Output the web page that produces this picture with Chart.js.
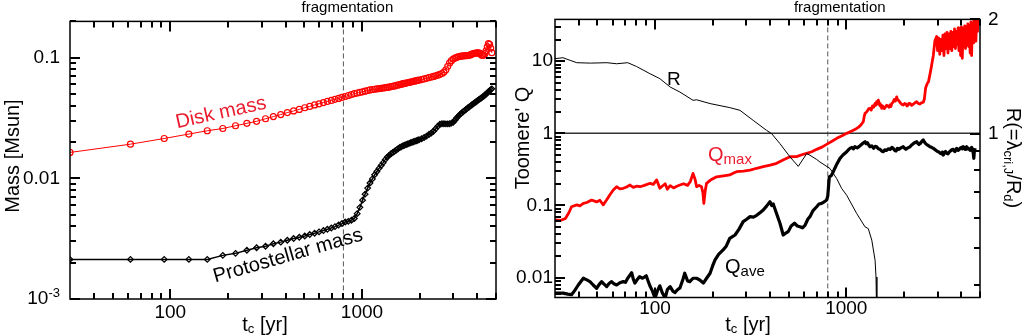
<!DOCTYPE html>
<html>
<head>
<meta charset="utf-8">
<script src="https://cdn.jsdelivr.net/npm/chart.js@4.4.1/dist/chart.umd.min.js"></script>
<style>
  body { margin: 0; background: #fff; }
  #wrap { position: relative; width: 1030px; height: 336px; background: #fff; }
  canvas { position: absolute; top: 0; }
  #massChart { left: 0; }
  #toomreChart { left: 505px; }
</style>
</head>
<body>
<div id="wrap">
  <canvas id="massChart" width="505" height="336"></canvas>
  <canvas id="toomreChart" width="525" height="336"></canvas>
</div>
<script>
const FONT = '"Liberation Sans", Arial, Helvetica, sans-serif';
const RED = '#ff0000';
const TEXT_RED = '#ec1c30';

// first fragment appears here [yr]
const tFrag = 800;

// shared time axis
const tTicks = [40, 50, 60, 70, 80, 90, 100, 200, 300, 400, 500, 600, 700, 800, 900, 1000, 2000, 3000, 4000, 5000];
const tMajor = [100, 1000];
const tLabels = { 100: '100', 1000: '1000' };

// left panel: masses
const massTicks = [0.001, 0.002, 0.003, 0.004, 0.005, 0.006, 0.007, 0.008, 0.009,
  0.01, 0.02, 0.03, 0.04, 0.05, 0.06, 0.07, 0.08, 0.09, 0.1, 0.2];
const massMajor = [0.001, 0.01, 0.1];
const massLabels = { 0.01: '0.01', 0.1: '0.1' };

const tMass = [30, 62, 93, 125, 156, 188, 219, 251, 282, 314,
  345, 377, 408, 440, 471, 503, 534, 566, 597, 629,
  660, 692, 723, 755, 786, 818,
  849, 881, 912, 944, 975, 1007, 1038, 1070, 1101, 1133,
  1164, 1196, 1227, 1259, 1290, 1322, 1353, 1385, 1416, 1448,
  1479, 1511, 1542, 1574, 1605, 1637, 1668, 1700, 1731, 1763,
  1794, 1826, 1857, 1889, 1920, 1952, 1983,
  2046, 2109, 2172, 2235, 2298, 2361, 2424, 2487, 2550, 2613,
  2676, 2739, 2802, 2865, 2928, 2991, 3054, 3117, 3180, 3243,
  3306, 3369, 3432, 3495, 3558, 3621, 3684, 3747, 3810, 3873,
  3936, 3999, 4062, 4125, 4188, 4251, 4314, 4377, 4440, 4503,
  4566, 4629, 4692, 4755];

const diskMass = [0.0164, 0.0192, 0.0214, 0.0233, 0.0248, 0.0259, 0.0273, 0.0286, 0.0297, 0.0312,
  0.0325, 0.0338, 0.0351, 0.0362, 0.0373, 0.0385, 0.0395, 0.0406, 0.0415, 0.0425,
  0.0434, 0.0443, 0.0452, 0.0460, 0.0469, 0.0477,
  0.0486, 0.0495, 0.0503, 0.0510, 0.0516, 0.0522, 0.0528, 0.0535, 0.0541, 0.0545,
  0.0548, 0.0552, 0.0555, 0.0558, 0.0561, 0.0564, 0.0567, 0.0571, 0.0576, 0.0580,
  0.0584, 0.0589, 0.0594, 0.0599, 0.0604, 0.0609, 0.0612, 0.0616, 0.0620, 0.0624,
  0.0628, 0.0632, 0.0637, 0.0641, 0.0645, 0.0649, 0.0652,
  0.0659, 0.0667, 0.0675, 0.0684, 0.0692, 0.0700, 0.0708, 0.0716, 0.0728, 0.0740,
  0.0760, 0.0795, 0.0850, 0.0905, 0.0945, 0.0975, 0.0995, 0.1008, 0.1018, 0.1025,
  0.1030, 0.1035, 0.1038, 0.1040, 0.1043, 0.1048, 0.1060, 0.1072, 0.1082, 0.1088,
  0.1092, 0.1095, 0.1096, 0.1085, 0.1060, 0.1045, 0.1050, 0.1080, 0.1140, 0.1230,
  0.1310, 0.1290, 0.1200, 0.1100];

const protoMass = [0.00213, 0.00213, 0.00213, 0.00213, 0.00213, 0.00230, 0.00239, 0.00254, 0.00266, 0.00274,
  0.00287, 0.00296, 0.00307, 0.00317, 0.00325, 0.00333, 0.00342, 0.00351, 0.00360, 0.00369,
  0.00378, 0.00388, 0.00398, 0.00410, 0.00422, 0.00435,
  0.00440, 0.00450, 0.00465, 0.00510, 0.00575, 0.00660, 0.00740, 0.00830, 0.00915, 0.0099,
  0.0107, 0.0114, 0.0121, 0.0128, 0.0135, 0.0143, 0.0150, 0.0155, 0.0160, 0.0164,
  0.0168, 0.0172, 0.0176, 0.0180, 0.0183, 0.0186, 0.0188, 0.0191, 0.0193, 0.0195,
  0.0197, 0.0199, 0.0201, 0.0203, 0.0205, 0.0207, 0.0209,
  0.0213, 0.0218, 0.0224, 0.0231, 0.0238, 0.0246, 0.0258, 0.0270, 0.0281, 0.0284,
  0.0284, 0.0283, 0.0283, 0.0284, 0.0287, 0.0292, 0.0303, 0.0316, 0.0328, 0.0339,
  0.0348, 0.0356, 0.0365, 0.0374, 0.0383, 0.0391, 0.0399, 0.0407, 0.0415, 0.0424,
  0.0432, 0.0440, 0.0448, 0.0456, 0.0464, 0.0472, 0.0480, 0.0490, 0.0500, 0.0511,
  0.0522, 0.0533, 0.0544, 0.0552];

// right panel: Toomre Q and R
const qTicks = [0.006, 0.007, 0.008, 0.009, 0.01, 0.02, 0.03, 0.04, 0.05, 0.06, 0.07, 0.08, 0.09,
  0.1, 0.2, 0.3, 0.4, 0.5, 0.6, 0.7, 0.8, 0.9, 1, 2, 3, 4, 5, 6, 7, 8, 9, 10, 20, 30];
const qMajor = [0.01, 0.1, 1, 10];
const qLabels = { 0.01: '0.01', 0.1: '0.1', 1: '1', 10: '10' };
const rTicks = [0.4, 0.5, 0.6, 0.7, 0.8, 0.9, 1, 2];
const rMajor = [1, 2];
const rLabels = { 1: '1', 2: '2' };

const tQmax = [30, 32, 34, 35.5, 36.6, 39, 40.5, 42.2, 44, 46.6,
  49.5, 51.5, 53.6, 55.8, 58, 60.5, 63, 65.5, 68.3, 71,
  74, 77, 80, 83.4, 88, 94.2, 98, 102, 106, 109,
  113, 116, 120, 125, 130, 135, 141, 148, 153, 158,
  162, 165, 170, 175, 178, 180, 183, 186, 195, 210,
  228, 246, 256, 267, 290, 314, 340, 368, 400, 432,
  470, 508, 550, 585, 620, 660, 700, 750, 805, 850,
  891, 950, 1005, 1040, 1070, 1100, 1133, 1160, 1190, 1210,
  1227, 1240, 1253, 1270, 1290, 1310, 1331, 1350, 1370, 1390,
  1414, 1427, 1440, 1455, 1470, 1485, 1500, 1515, 1532, 1545,
  1560, 1580, 1600, 1625, 1650, 1670, 1692, 1710, 1730, 1755,
  1780, 1805, 1834, 1855, 1880, 1905, 1930, 1958, 1986, 2020,
  2050, 2075, 2100, 2125, 2153, 2195, 2240, 2285, 2333, 2375,
  2420, 2470, 2526, 2560, 2600, 2650, 2690, 2750, 2793, 2850,
  2904, 2966, 3000, 3040, 3080, 3120, 3160, 3200, 3240, 3280,
  3320, 3360, 3400, 3440, 3480, 3520, 3560, 3600, 3640, 3680,
  3720, 3760, 3800, 3840, 3880, 3920, 3960, 4000, 4040, 4080,
  4120, 4160, 4200, 4240, 4280, 4320, 4360, 4400, 4440, 4480,
  4520, 4560, 4600, 4640, 4680, 4720, 4760, 4800, 4850, 4900,
  4950];
const qMax = [0.063, 0.062, 0.066, 0.080, 0.096, 0.102, 0.099, 0.107, 0.110, 0.119,
  0.112, 0.118, 0.102, 0.119, 0.140, 0.164, 0.182, 0.170, 0.173, 0.180,
  0.192, 0.178, 0.185, 0.182, 0.190, 0.203, 0.196, 0.226, 0.173, 0.185,
  0.200, 0.168, 0.188, 0.175, 0.185, 0.192, 0.200, 0.190, 0.215, 0.279,
  0.230, 0.182, 0.190, 0.182, 0.150, 0.107, 0.160, 0.203, 0.225, 0.250,
  0.258, 0.265, 0.280, 0.294, 0.300, 0.310, 0.328, 0.345, 0.362, 0.384,
  0.430, 0.474, 0.475, 0.505, 0.529, 0.556, 0.600, 0.650, 0.727, 0.790,
  0.853, 0.925, 1.00, 1.04, 1.08, 1.12, 1.17, 1.22, 1.30, 1.38,
  1.45, 1.70, 1.89, 1.95, 2.05, 2.20, 2.22, 2.10, 2.40, 2.30,
  2.60, 2.45, 2.75, 2.55, 2.89, 2.60, 2.40, 2.50, 2.22, 2.40,
  2.35, 2.20, 2.30, 2.45, 2.40, 2.30, 2.47, 2.35, 2.60, 2.70,
  2.95, 2.80, 3.21, 2.90, 2.85, 2.70, 2.60, 2.50, 2.47, 2.60,
  2.55, 2.40, 2.45, 2.60, 2.60, 2.45, 2.55, 2.65, 2.74, 2.60,
  2.55, 2.65, 2.70, 3.00, 4.30, 4.90, 5.20, 7.00, 8.80, 12.0,
  19.0, 22.0, 14.0, 21.0, 12.5, 20.0, 14.0, 23.0, 12.0, 24.0,
  15.0, 25.0, 13.0, 24.0, 15.0, 26.0, 14.0, 25.0, 16.0, 28.0,
  15.0, 26.0, 17.0, 29.0, 14.0, 27.0, 12.0, 30.0, 11.0, 28.0,
  16.0, 31.0, 15.0, 30.0, 17.0, 33.0, 16.0, 31.0, 13.0, 35.0,
  12.0, 33.0, 18.0, 38.0, 21.0, 36.0, 19.0, 42.0, 26.0, 40.0,
  45.0];

const tQave = [30, 33.1, 35, 36.6, 38, 39.7, 42.2, 44, 45.7, 47.5,
  49.5, 51, 52.6, 54, 55.9, 57.5, 59.3, 61, 63, 65.5,
  68.2, 70, 72, 75.5, 77, 78.5, 81, 83, 86, 90,
  92, 94, 97, 100, 103, 106, 109, 113, 116, 120,
  124, 127, 131, 135, 140, 143, 148, 152, 158, 165,
  172, 179, 186, 194, 200, 206, 215, 227, 236, 246,
  254, 262, 275, 289, 300, 314, 327, 340, 355, 368,
  383, 399, 407, 415, 430, 450, 468, 480, 497, 515,
  536, 555, 572, 590, 608, 630, 646, 670, 700, 720,
  743, 765, 789, 800, 815, 835, 855, 890, 927, 960,
  1005, 1025, 1045, 1070, 1090, 1109, 1140, 1170, 1200, 1230,
  1253, 1270, 1290, 1310, 1330, 1360, 1390, 1415, 1442, 1470,
  1500, 1530, 1561, 1590, 1620, 1660, 1700, 1730, 1760, 1790,
  1820, 1850, 1880, 1930, 1985, 2020, 2050, 2100, 2150, 2195,
  2240, 2290, 2333, 2370, 2400, 2430, 2450, 2490, 2525, 2560,
  2600, 2650, 2700, 2737, 2790, 2850, 2900, 2950, 3000, 3050,
  3100, 3150, 3180, 3215, 3260, 3300, 3350, 3400, 3450, 3500,
  3560, 3625, 3660, 3700, 3740, 3777, 3840, 3900, 3950, 4000,
  4040, 4087, 4130, 4180, 4220, 4256, 4300, 4350, 4400, 4450,
  4490, 4520, 4560, 4612, 4630, 4650, 4675, 4700];
const qAve = [0.0061, 0.0061, 0.0059, 0.0058, 0.0066, 0.0079, 0.0098, 0.0093, 0.0088, 0.0079,
  0.0071, 0.0080, 0.0088, 0.0082, 0.0075, 0.0083, 0.0088, 0.0082, 0.0079, 0.0085,
  0.0088, 0.0086, 0.0098, 0.0117, 0.0095, 0.0084, 0.0095, 0.0103, 0.0098, 0.0106,
  0.0090, 0.0077, 0.0065, 0.0052, 0.0066, 0.0077, 0.0062, 0.0052, 0.0068, 0.0075,
  0.0065, 0.0062, 0.0068, 0.0072, 0.0095, 0.0115, 0.0090, 0.0088, 0.0098, 0.0098,
  0.0092, 0.0084, 0.0098, 0.0115, 0.0145, 0.0176, 0.0210, 0.0242, 0.0275, 0.0351,
  0.0370, 0.0390, 0.0470, 0.0597, 0.0640, 0.0700, 0.0690, 0.0730, 0.0800, 0.0867,
  0.0980, 0.113, 0.100, 0.105, 0.080, 0.0567, 0.039, 0.041, 0.0434, 0.052,
  0.0567, 0.052, 0.0508, 0.049, 0.053, 0.065, 0.070, 0.085, 0.096, 0.105,
  0.107, 0.112, 0.119, 0.135, 0.25, 0.26, 0.294, 0.37, 0.45, 0.50,
  0.556, 0.59, 0.62, 0.64, 0.61, 0.653, 0.63, 0.66, 0.70, 0.74,
  0.765, 0.72, 0.74, 0.69, 0.653, 0.67, 0.62, 0.66, 0.653, 0.61,
  0.60, 0.57, 0.556, 0.59, 0.58, 0.61, 0.60, 0.64, 0.62, 0.58,
  0.57, 0.62, 0.60, 0.63, 0.653, 0.62, 0.60, 0.63, 0.65, 0.69,
  0.72, 0.75, 0.765, 0.72, 0.70, 0.73, 0.74, 0.78, 0.81, 0.76,
  0.72, 0.69, 0.67, 0.653, 0.64, 0.62, 0.60, 0.58, 0.56, 0.55,
  0.53, 0.52, 0.55, 0.50, 0.54, 0.56, 0.53, 0.52, 0.55, 0.57,
  0.59, 0.60, 0.57, 0.56, 0.59, 0.62, 0.58, 0.60, 0.63, 0.64,
  0.61, 0.653, 0.62, 0.60, 0.64, 0.653, 0.61, 0.62, 0.60, 0.58,
  0.62, 0.64, 0.60, 0.53, 0.60, 0.45, 0.58, 0.62];

const tR = [30, 33, 36, 39, 46, 56, 63, 72, 80, 94,
  106, 120, 135, 158, 165, 194, 246, 278, 326, 383,
  407, 450, 508, 561, 621, 646, 700, 728, 822, 891,
  946, 1005, 1133, 1253, 1303, 1359, 1414, 1430, 1445];
const rRatio = [1.576, 1.585, 1.56, 1.538, 1.534, 1.538, 1.528, 1.538, 1.503, 1.439,
  1.396, 1.327, 1.287, 1.224, 1.228, 1.2, 1.171, 1.152, 1.084, 1.02,
  1.0, 0.941, 0.868, 0.820, 0.886, 0.877, 0.855, 0.842, 0.809, 0.761,
  0.717, 0.688, 0.616, 0.568, 0.562, 0.524, 0.464, 0.419, 0.30];

const pts = (xs, ys) => xs.map((x, i) => ({ x: x, y: ys[i] }));

function logAxis(min, max, labels, size, pad, position) {
  return {
    type: 'logarithmic', position: position, min: min, max: max, bounds: 'data',
    grid: { display: false, drawTicks: false },
    border: { display: false },
    ticks: {
      autoSkip: false, maxRotation: 0, minRotation: 0, padding: pad, color: '#000',
      font: { family: FONT, size: 19 },
      callback: v => labels[v] || ''
    },
    afterBuildTicks: s => {
      s.ticks = Object.keys(labels).map(Number).sort((a, b) => a - b).map(v => ({ value: v }));
    },
    afterFit: s => { if (s.isHorizontal()) s.height = size; else s.width = size; }
  };
}

// text with sub/superscripts: parts = [text, size, dy]
function richText(ctx, parts, x, y, align) {
  let w = 0;
  parts.forEach(p => { ctx.font = p[1] + 'px ' + FONT; w += ctx.measureText(p[0]).width; });
  let cx = align === 'center' ? x - w / 2 : (align === 'right' ? x - w : x);
  ctx.textAlign = 'left';
  parts.forEach(p => {
    ctx.font = p[1] + 'px ' + FONT;
    ctx.fillText(p[0], cx, y + p[2]);
    cx += ctx.measureText(p[0]).width;
  });
}

function rotatedText(ctx, parts, x, y, angle, color) {
  ctx.save();
  ctx.translate(x, y);
  ctx.rotate(angle);
  ctx.fillStyle = color;
  ctx.textBaseline = 'middle';
  richText(ctx, parts, 0, 0, 'center');
  ctx.restore();
}

// inward tick marks on the chosen sides, then the plot box
function drawTickMarks(chart, marks) {
  const ctx = chart.ctx;
  const a = chart.chartArea;
  ctx.save();
  ctx.strokeStyle = '#000';
  ctx.lineWidth = 2;
  ctx.setLineDash([]);
  marks.forEach(m => {
    const s = chart.scales[m.id];
    m.values.forEach(v => {
      const len = m.major.indexOf(v) >= 0 ? 10 : 6;
      const p = Math.round(s.getPixelForValue(v));
      m.sides.forEach(side => {
        ctx.beginPath();
        if (side === 'bottom') { ctx.moveTo(p, a.bottom); ctx.lineTo(p, a.bottom - len); }
        if (side === 'top') { ctx.moveTo(p, a.top); ctx.lineTo(p, a.top + len); }
        if (side === 'left') { ctx.moveTo(a.left, p); ctx.lineTo(a.left + len, p); }
        if (side === 'right') { ctx.moveTo(a.right, p); ctx.lineTo(a.right - len, p); }
        ctx.stroke();
      });
    });
  });
  ctx.lineWidth = 1.5;
  ctx.strokeRect(a.left, a.top, a.right - a.left, a.bottom - a.top);
  ctx.restore();
}

function fragmentLine(chart) {
  const { ctx, chartArea: a, scales } = chart;
  const xf = scales.x.getPixelForValue(tFrag);
  ctx.save();
  ctx.strokeStyle = '#555';
  ctx.lineWidth = 1;
  ctx.setLineDash([5, 3]);
  ctx.beginPath();
  ctx.moveTo(xf, a.top);
  ctx.lineTo(xf, a.bottom);
  ctx.stroke();
  ctx.restore();
}

function fragmentLabel(chart, dx) {
  const ctx = chart.ctx;
  const xf = chart.scales.x.getPixelForValue(tFrag);
  ctx.save();
  ctx.fillStyle = '#000';
  ctx.font = '15px ' + FONT;
  ctx.textAlign = 'center';
  ctx.textBaseline = 'alphabetic';
  ctx.fillText('fragmentation', xf + dx, 12);
  ctx.restore();
}

function timeTitle(ctx, cx) {
  ctx.save();
  ctx.fillStyle = '#000';
  ctx.textBaseline = 'alphabetic';
  richText(ctx, [['t', 20, 0], ['c', 13, 2], [' [yr]', 20, 0]], cx, 331, 'center');
  ctx.restore();
}

const massNotes = {
  id: 'massNotes',
  beforeDatasetsDraw(chart) { fragmentLine(chart); },
  afterDraw(chart) {
    const ctx = chart.ctx;
    drawTickMarks(chart, [
      { id: 'x', values: tTicks, major: tMajor, sides: ['bottom', 'top'] },
      { id: 'y', values: massTicks, major: massMajor, sides: ['left', 'right'] }
    ]);
    fragmentLabel(chart, 4);
    rotatedText(ctx, [['Mass [Msun]', 20, 0]], 13, 156, -Math.PI / 2, '#000');
    timeTitle(ctx, 265);
    // 10^-3 at the foot of the mass axis
    const y0 = chart.scales.y.getPixelForValue(0.001);
    ctx.save();
    ctx.fillStyle = '#000';
    ctx.textBaseline = 'middle';
    richText(ctx, [['10', 19, 0], ['-3', 13, -6]], chart.chartArea.left - 10, y0, 'right');
    ctx.restore();
    rotatedText(ctx, [['Disk mass', 20, 0]], 221, 113, -12.5 * Math.PI / 180, TEXT_RED);
    rotatedText(ctx, [['Protostellar mass', 20, 0]], 288, 256, -16 * Math.PI / 180, '#000');
  }
};

const toomreNotes = {
  id: 'toomreNotes',
  beforeDatasetsDraw(chart) {
    fragmentLine(chart);
    const { ctx, chartArea: a, scales } = chart;
    const y1 = scales.y.getPixelForValue(1);
    ctx.save();
    ctx.strokeStyle = '#333';
    ctx.lineWidth = 1.5;
    ctx.beginPath();
    ctx.moveTo(a.left, y1);
    ctx.lineTo(a.right, y1);
    ctx.stroke();
    ctx.restore();
  },
  afterDraw(chart) {
    const ctx = chart.ctx;
    drawTickMarks(chart, [
      { id: 'x', values: tTicks, major: tMajor, sides: ['bottom', 'top'] },
      { id: 'y', values: qTicks, major: qMajor, sides: ['left'] },
      { id: 'yR', values: rTicks, major: rMajor, sides: ['right'] }
    ]);
    fragmentLabel(chart, 12);
    rotatedText(ctx, [["Toomere' Q", 20, 0]], 18, 138, -Math.PI / 2, '#000');
    rotatedText(ctx, [['R(=\u03bb', 20, 0], ['cri,J', 13, 5], ['/R', 20, 0], ['d', 13, 5], [')', 20, 0]],
      508, 158, Math.PI / 2, '#000');
    timeTitle(ctx, 243);
    ctx.save();
    ctx.textBaseline = 'alphabetic';
    ctx.fillStyle = '#000';
    richText(ctx, [['R', 19, 0]], 162, 85, 'left');
    ctx.fillStyle = TEXT_RED;
    richText(ctx, [['Q', 20, 0], ['max', 15, 3]], 203, 161, 'left');
    ctx.fillStyle = '#000';
    richText(ctx, [['Q', 20, 0], ['ave', 15, 3]], 220, 273, 'left');
    ctx.restore();
  }
};

new Chart(document.getElementById('massChart'), {
  type: 'line',
  data: {
    datasets: [
      {
        label: 'Disk mass',
        data: pts(tMass, diskMass),
        borderColor: RED, borderWidth: 1,
        pointStyle: 'circle', pointRadius: 3, pointBorderWidth: 1.2,
        pointBorderColor: RED, pointBackgroundColor: 'rgba(0,0,0,0)'
      },
      {
        label: 'Protostellar mass',
        data: pts(tMass, protoMass),
        borderColor: '#000', borderWidth: 1.5,
        pointStyle: 'rectRot', pointRadius: 2.8, pointBorderWidth: 1.3,
        pointBorderColor: '#000', pointBackgroundColor: 'rgba(0,0,0,0)'
      }
    ]
  },
  options: {
    responsive: false, animation: false, devicePixelRatio: 1,
    layout: { padding: { top: 20.5, right: 9, left: 0, bottom: 0 } },
    plugins: { legend: { display: false }, tooltip: { enabled: false } },
    scales: {
      x: logAxis(30, 5000, tLabels, 37, 2, 'bottom'),
      y: logAxis(0.001, 0.2, massLabels, 70, 10, 'left')
    }
  },
  plugins: [massNotes]
});

new Chart(document.getElementById('toomreChart'), {
  type: 'line',
  data: {
    datasets: [
      {
        label: 'R', yAxisID: 'yR',
        data: pts(tR, rRatio),
        borderColor: '#000', borderWidth: 1, pointRadius: 0
      },
      {
        label: 'Qmax', yAxisID: 'y',
        data: pts(tQmax, qMax),
        borderColor: RED, borderWidth: 2.8, pointRadius: 0, borderJoinStyle: 'round'
      },
      {
        label: 'Qave', yAxisID: 'y',
        data: pts(tQave, qAve),
        borderColor: '#000', borderWidth: 3.2, pointRadius: 0, borderJoinStyle: 'round'
      }
    ]
  },
  options: {
    responsive: false, animation: false, devicePixelRatio: 1,
    layout: { padding: { top: 19, right: 0, left: 0, bottom: 0 } },
    plugins: { legend: { display: false }, tooltip: { enabled: false } },
    scales: {
      x: logAxis(30, 5000, tLabels, 38.5, 0, 'bottom'),
      y: logAxis(0.0053, 38, qLabels, 50, 2, 'left'),
      yR: logAxis(0.37, 2, rLabels, 50, 8, 'right')
    }
  },
  plugins: [toomreNotes]
});
</script>
</body>
</html>
